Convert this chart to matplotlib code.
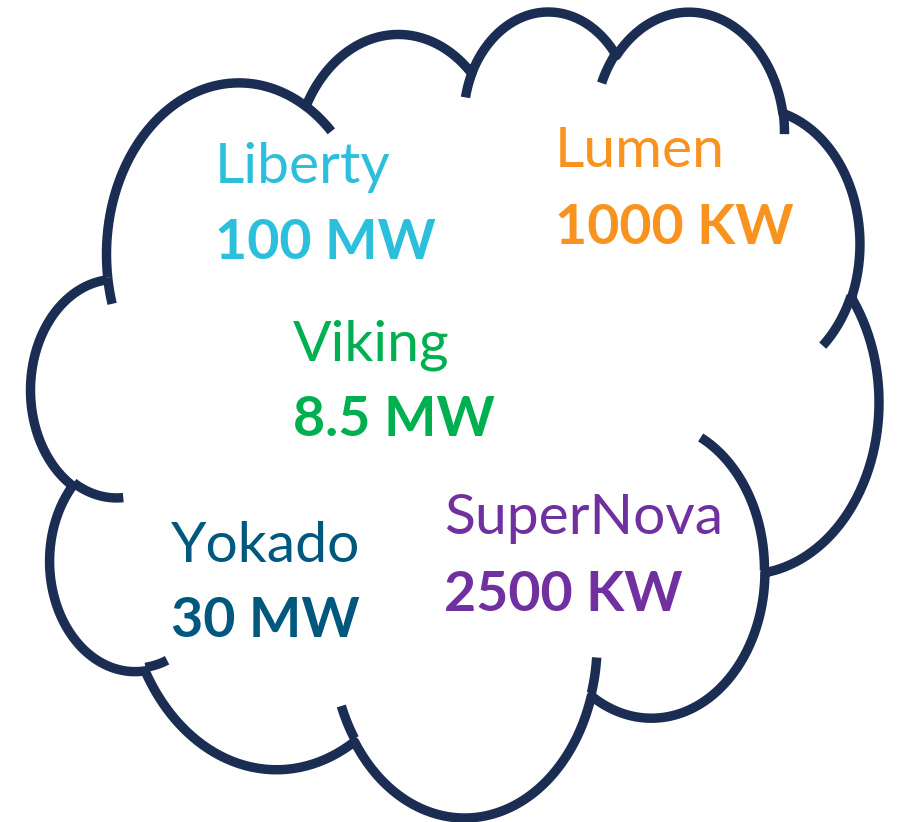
import numpy as np
import matplotlib
matplotlib.use('Agg')
import matplotlib.pyplot as plt

# plants in the cloud
names = ['Liberty', 'Lumen', 'Viking', 'Yokado', 'SuperNova']
capacity = ['100 MW', '1000 KW', '8.5 MW', '30 MW', '2500 KW']
colors = ['#2cbfdb', '#f7931e', '#00b050', '#00587f', '#7030a0']
# left x, baseline of name, baseline of capacity (pixels)
pos_x = [215, 555, 293, 171, 444]
name_y = [183, 167, 360, 562, 534]
cap_y = [259, 244, 436, 637, 611]

# office "cloud" preset geometry, 43200 x 43200 path units
main_start = (3900, 14370)
main_arcs = [(6753, 9190, -11429249, 7426832), (5333, 7267, -8646143, 5396714),
             (4365, 5945, -8748475, 5983381), (4857, 6595, -7859164, 7034504),
             (5333, 7273, -4722533, 6541615), (6775, 9220, -2776035, 7816140),
             (5785, 7867, 37501, 6842000), (6752, 9215, 1347096, 6910353),
             (7720, 10543, 3974558, 4542661), (4360, 5918, -16496525, 8804134),
             (4345, 5945, -14809710, 9151131)]
inner = [((4693, 26177), (4345, 5945, 5204520, 1585770)),
         ((6928, 34899), (4360, 5918, 4416628, 686848)),
         ((16478, 39090), (6752, 9215, 8257449, 844866)),
         ((28827, 34751), (6752, 9215, 387196, 959901)),
         ((34129, 22954), (5785, 7867, -4217541, 4255042)),
         ((41798, 15354), (5333, 7273, 1819082, 1665090)),
         ((38324, 5426), (4857, 6595, -824660, 891534)),
         ((29078, 3952), (4857, 6595, -8950887, 1091722)),
         ((22141, 4720), (4365, 5945, -9809656, 1061181)),
         ((14000, 5192), (6753, 9190, -4002417, 739161)),
         ((4127, 15789), (6753, 9190, 9459261, 711490))]


def arc_to(x0, y0, wr, hr, st, sw, n=80):
    # angles are 60000ths of a degree, measured visually on the ellipse
    st = np.deg2rad(st / 60000.0)
    sw = np.deg2rad(sw / 60000.0)
    t0 = np.arctan2(wr * np.sin(st), hr * np.cos(st))
    cx = x0 - wr * np.cos(t0)
    cy = y0 - hr * np.sin(t0)
    th = np.linspace(st, st + sw, n)
    t = np.arctan2(wr * np.sin(th), hr * np.cos(th))
    return cx + wr * np.cos(t), cy + hr * np.sin(t)


xs, ys = [main_start[0]], [main_start[1]]
for a in main_arcs:
    ax_, ay_ = arc_to(xs[-1], ys[-1], *a)
    xs.extend(ax_[1:])
    ys.extend(ay_[1:])
xs, ys = np.array(xs), np.array(ys)

# map path box onto picture (stroke centres)
L, R, T, B = 30.5, 879, 12, 818
sx = (R - L) / (xs.max() - xs.min())
sy = (B - T) / (ys.max() - ys.min())
x_off, y_off = xs.min(), ys.min()


def to_px(x, y):
    return L + (np.asarray(x) - x_off) * sx, T + (np.asarray(y) - y_off) * sy


fig = plt.figure(figsize=(9.02, 8.22), dpi=100)
ax = fig.add_axes([0, 0, 1, 1])
ax.set_xlim(0, 902)
ax.set_ylim(822, 0)
ax.axis('off')

lw = 6.8
line_col = '#1b2d52'
px, py = to_px(xs, ys)
ax.plot(px, py, color=line_col, lw=lw, solid_capstyle='butt', solid_joinstyle='round')
for (x0, y0), a in inner:
    ix, iy = arc_to(x0, y0, *a)
    px, py = to_px(ix, iy)
    ax.plot(px, py, color=line_col, lw=lw, solid_capstyle='butt')

for i in range(len(names)):
    ax.text(pos_x[i], name_y[i], names[i], color=colors[i], fontsize=41,
            family='Lato', ha='left', va='baseline')
    ax.text(pos_x[i], cap_y[i], capacity[i], color=colors[i], fontsize=40,
            family='Lato', fontweight='bold', ha='left', va='baseline')

fig.savefig('out.png', dpi=100)
